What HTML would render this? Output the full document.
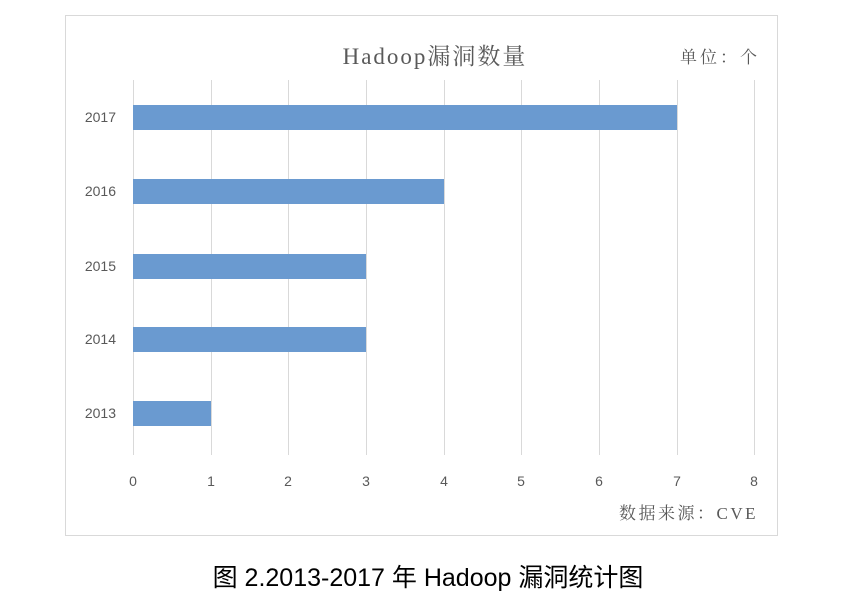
<!DOCTYPE html>
<html><head><meta charset="utf-8"><style>
body{margin:0;background:#fff;width:846px;height:604px;position:relative;overflow:hidden;font-family:"Liberation Sans","Noto Sans CJK SC",sans-serif}
.a{position:absolute}
</style></head><body>
<svg class="a" style="left:0;top:0" width="846" height="604">
<rect x="65.5" y="15.5" width="712" height="520" fill="#fff" stroke="#d9d9d9"/>
<g stroke="#d9d9d9" stroke-width="1">
<line x1="133.5" y1="80" x2="133.5" y2="455"/>
<line x1="211.5" y1="80" x2="211.5" y2="455"/>
<line x1="288.5" y1="80" x2="288.5" y2="455"/>
<line x1="366.5" y1="80" x2="366.5" y2="455"/>
<line x1="444.5" y1="80" x2="444.5" y2="455"/>
<line x1="521.5" y1="80" x2="521.5" y2="455"/>
<line x1="599.5" y1="80" x2="599.5" y2="455"/>
<line x1="677.5" y1="80" x2="677.5" y2="455"/>
<line x1="754.5" y1="80" x2="754.5" y2="455"/>
</g>
<g fill="#6a9ad0">
<rect x="133" y="105" width="544" height="25"/>
<rect x="133" y="179" width="311" height="25"/>
<rect x="133" y="254" width="233" height="25"/>
<rect x="133" y="327" width="233" height="25"/>
<rect x="133" y="401" width="78" height="25"/>
</g>
<g font-family="Liberation Sans, sans-serif" font-size="14" fill="#595959" text-anchor="end">
<text x="116" y="122">2017</text>
<text x="116" y="196">2016</text>
<text x="116" y="271">2015</text>
<text x="116" y="344">2014</text>
<text x="116" y="418">2013</text>
</g>
<g font-family="Liberation Sans, sans-serif" font-size="14" fill="#595959" text-anchor="middle">
<text x="133" y="486">0</text><text x="211" y="486">1</text><text x="288" y="486">2</text>
<text x="366" y="486">3</text><text x="444" y="486">4</text><text x="521" y="486">5</text>
<text x="599" y="486">6</text><text x="677" y="486">7</text><text x="754" y="486">8</text>
</g>
<text x="435" y="64" text-anchor="middle" font-size="23" letter-spacing="2" fill="#595959" font-family="Liberation Serif, Noto Serif CJK SC, serif">Hadoop漏洞数量</text>
<text x="760" y="63" text-anchor="end" font-size="17" letter-spacing="3" fill="#595959" font-family="Liberation Serif, Noto Serif CJK SC, serif">单位：个</text>
<text x="758" y="519" text-anchor="end" font-size="17" letter-spacing="2.5" fill="#595959" font-family="Liberation Serif, Noto Serif CJK SC, serif">数据来源：CVE</text>
<text x="428" y="586" text-anchor="middle" font-size="25" fill="#000" font-family="Liberation Sans, Noto Sans CJK SC, sans-serif">图 2.2013-2017 年 Hadoop 漏洞统计图</text>
</svg>
</body></html>
